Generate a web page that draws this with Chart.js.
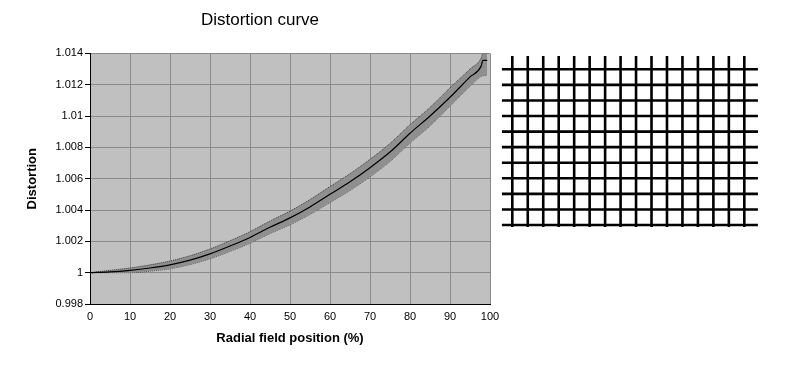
<!DOCTYPE html>
<html>
<head>
<meta charset="utf-8">
<script src="https://cdn.jsdelivr.net/npm/chart.js@4/dist/chart.umd.min.js"></script>
<style>
html,body{margin:0;padding:0;background:#fff;width:785px;height:366px;overflow:hidden;}
#main{position:absolute;left:0;top:0;}
#grid{position:absolute;left:495px;top:45px;}
</style>
</head>
<body>
<canvas id="main" width="520" height="366"></canvas>
<canvas id="grid" width="290" height="190"></canvas>
<script>
// ---- data ----
const positions  = [0, 5, 10, 15, 20, 25, 30, 35, 40, 45, 50, 55, 60, 65, 70, 75, 80, 85, 90, 95, 97.8, 98.2, 99.3];
const distortion = [1.0000, 1.00005, 1.00015, 1.0003, 1.0005, 1.0008, 1.0012, 1.0017, 1.00225, 1.0029, 1.0035, 1.0042, 1.0050, 1.0058, 1.0067, 1.0077, 1.0089, 1.0100, 1.0112, 1.0125, 1.0132, 1.01355, 1.01355];
const upperBound = [1.0000, 1.00015, 1.0003, 1.0005, 1.00074, 1.00108, 1.00151, 1.00204, 1.00262, 1.0033, 1.00393, 1.00467, 1.0055, 1.00632, 1.00724, 1.00825, 1.00945, 1.01055, 1.0118, 1.0130, 1.0137, 1.0140, 1.0140];
const lowerBound = [1.0000, 1.0000, 1.0000, 1.0001, 1.00025, 1.00052, 1.00089, 1.00136, 1.00188, 1.0025, 1.00306, 1.00372, 1.00448, 1.00525, 1.00612, 1.0071, 1.00828, 1.00937, 1.01063, 1.0119, 1.01254, 1.01257, 1.01259];
const xTickLabels = ['0', '10', '20', '30', '40', '50', '60', '70', '80', '90', '100'];
const yTickLabels = ['0.998', '1', '1.002', '1.004', '1.006', '1.008', '1.01', '1.012', '1.014'];
// distorted-grid illustration: column and row indices of its lines
const gridColumns = [0, 1, 2, 3, 4, 5, 6, 7, 8, 9, 10, 11, 12, 13, 14, 15];
const gridRows    = [0, 1, 2, 3, 4, 5, 6, 7, 8, 9, 10];

const FONT = "'Liberation Sans', Arial, sans-serif";
Chart.defaults.font.family = FONT;
Chart.defaults.color = '#000';

const pts = arr => positions.map((x, i) => ({x: x, y: arr[i]}));

new Chart(document.getElementById('main'), {
  type: 'line',
  data: {
    datasets: [
      { label: 'Distortion', data: pts(distortion), borderColor: '#000', borderWidth: 1.2,
        pointRadius: 0, fill: false, order: 0, cubicInterpolationMode: 'monotone' },
      { label: 'Upper', data: pts(upperBound), borderColor: '#3a3a3a', borderWidth: 1, borderDash: [1, 1],
        pointRadius: 0, fill: '+1', backgroundColor: '#8f8f8f', order: 1, cubicInterpolationMode: 'monotone' },
      { label: 'Lower', data: pts(lowerBound), borderColor: '#3a3a3a', borderWidth: 1, borderDash: [1, 1],
        pointRadius: 0, fill: false, order: 2, cubicInterpolationMode: 'monotone' }
    ]
  },
  options: {
    responsive: false, animation: false, devicePixelRatio: 1,
    layout: { padding: 0 },
    plugins: {
      legend: { display: false },
      tooltip: { enabled: false },
      title: { display: true, text: 'Distortion curve', color: '#000',
        font: { family: FONT, size: 17, weight: 'normal' }, padding: { top: 10, bottom: 23 } }
    },
    scales: {
      x: {
        type: 'linear', min: 0, max: 100,
        afterFit: s => { s.height = 62; },
        ticks: { stepSize: 10, padding: 6, font: { size: 11 }, color: '#000', maxRotation: 0,
          callback: (v, i) => xTickLabels[i] },
        grid: { color: '#8a8a8a', lineWidth: 1, drawTicks: false },
        border: { color: '#000', width: 1 },
        title: { display: true, text: 'Radial field position (%)', font: { size: 13, weight: 'bold' },
          color: '#000', padding: { top: 0, bottom: 20 } }
      },
      y: {
        type: 'linear', min: 0.998, max: 1.014,
        afterFit: s => { s.width = 90; },
        ticks: { stepSize: 0.002, padding: 2, font: { size: 11 }, color: '#000',
          callback: (v, i) => yTickLabels[i] },
        grid: { color: '#8a8a8a', lineWidth: 1, drawTicks: true, tickLength: 5, tickColor: '#000' },
        border: { color: '#000', width: 1 },
        title: { display: true, text: 'Distortion', font: { size: 13, weight: 'bold' },
          color: '#000', padding: { top: 25, bottom: 0 } }
      },
      yRight: {
        type: 'linear', position: 'right', min: 0, max: 1, display: true,
        afterFit: s => { s.width = 30; },
        ticks: { display: false }, grid: { display: false }, border: { display: false }
      }
    }
  },
  plugins: [{
    id: 'plotBg',
    beforeDraw(chart) {
      const a = chart.chartArea, c = chart.ctx;
      c.save(); c.fillStyle = '#c0c0c0';
      c.fillRect(a.left, a.top, a.right - a.left, a.bottom - a.top); c.restore();
    }
  }]
});

// distorted grid illustration
const gridSets = [];
gridColumns.forEach(cx => gridSets.push({ data: [{x: cx, y: -0.85}, {x: cx, y: 10.13}] }));
gridRows.forEach(ry => gridSets.push({ data: [{x: -0.67, y: ry}, {x: 15.88, y: ry}] }));
gridSets.forEach(d => Object.assign(d, { showLine: true, borderColor: '#000', borderWidth: 2.6, pointRadius: 0, fill: false }));

new Chart(document.getElementById('grid'), {
  type: 'scatter',
  data: { datasets: gridSets },
  options: {
    responsive: false, animation: false, devicePixelRatio: 1,
    layout: { padding: 0 },
    plugins: { legend: { display: false }, tooltip: { enabled: false } },
    scales: {
      x: { type: 'linear', display: false, min: -1.1185, max: 17.63 },
      y: { type: 'linear', display: false, reverse: true, min: -1.561, max: 10.642 }
    }
  }
});
</script>
</body>
</html>
